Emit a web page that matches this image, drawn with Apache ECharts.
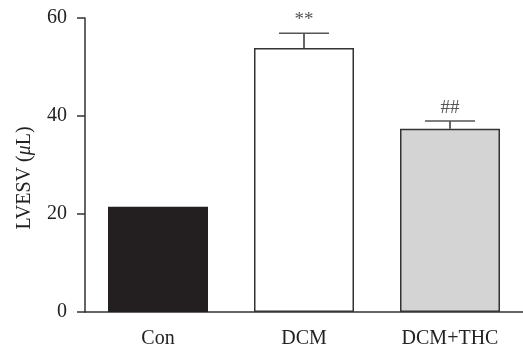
<!DOCTYPE html>
<html>
<head>
<meta charset="utf-8">
<style>
  html, body { margin: 0; padding: 0; background: #fff; }
  #chart { width: 523px; height: 355px; }
</style>
<script src="https://cdn.jsdelivr.net/npm/echarts@6/dist/echarts.min.js"></script>
</head>
<body>
<div id="chart"></div>
<script>
// Group labels and measured LVESV values (mean and upper SEM)
const categories = ['Con', 'DCM', 'DCM+THC'];
const means = [21.5, 53.9, 37.4];
const errors = [0, 3.0, 1.6];
const marks = ['', '**', '##'];
const yTicks = [0, 20, 40, 60];

const fills = ['#231f20', '#ffffff', '#d4d4d4'];
const serif = '"Liberation Serif", "Times New Roman", serif';

const chart = echarts.init(document.getElementById('chart'), null, { renderer: 'canvas' });

const errorData = means.map((m, i) => [i, m, m + errors[i]]);

chart.setOption({
  animation: false,
  backgroundColor: '#ffffff',
  grid: { left: 85, right: -3, top: 18, bottom: 43, containLabel: false },
  xAxis: {
    type: 'category',
    data: categories,
    axisLine: { lineStyle: { color: '#333', width: 1.5 } },
    axisTick: { alignWithLabel: true, length: 10, lineStyle: { color: '#333', width: 1.5 } },
    axisLabel: { color: '#222', fontFamily: serif, fontSize: 20, margin: 17 }
  },
  yAxis: {
    type: 'value',
    min: yTicks[0],
    max: yTicks[yTicks.length - 1],
    interval: yTicks[1] - yTicks[0],
    name: 'LVESV ({it|μ}L)',
    nameLocation: 'middle',
    nameGap: 50,
    nameRotate: 90,
    nameTextStyle: {
      color: '#222', fontFamily: serif, fontSize: 20,
      padding: [0, 26, 0, 0],
      rich: {
        it: { color: '#222', fontFamily: serif, fontSize: 20, fontStyle: 'italic' }
      }
    },
    splitLine: { show: false },
    axisLine: { show: true, lineStyle: { color: '#333', width: 1.5 } },
    axisTick: { show: true, length: 8, lineStyle: { color: '#333', width: 1.5 } },
    axisLabel: { color: '#222', fontFamily: serif, fontSize: 20, margin: 18 }
  },
  series: [
    {
      type: 'bar',
      barWidth: 100,
      data: means.map((v, i) => ({
        value: v,
        itemStyle: {
          color: fills[i],
          borderColor: i === 0 ? fills[0] : '#333',
          borderWidth: i === 0 ? 0 : 1.5
        }
      })),
      z: 1
    },
    {
      type: 'custom',
      data: errorData,
      z: 3,
      renderItem: function (params, api) {
        const idx = api.value(0);
        const mean = api.value(1);
        const top = api.value(2);
        const mark = marks[params.dataIndex];
        const children = [];
        if (top > mean) {
          const p0 = api.coord([idx, mean]);
          const p1 = api.coord([idx, top]);
          const half = 25;
          children.push({
            type: 'line',
            shape: { x1: p0[0], y1: p0[1], x2: p1[0], y2: p1[1] },
            style: { stroke: '#333', lineWidth: 1.5 }
          });
          children.push({
            type: 'line',
            shape: { x1: p1[0] - half, y1: p1[1], x2: p1[0] + half, y2: p1[1] },
            style: { stroke: '#555', lineWidth: 1.5 }
          });
          if (mark) {
            children.push({
              type: 'text',
              style: {
                x: p1[0], y: p1[1] - 13,
                text: mark,
                fill: '#555',
                font: '19px ' + serif,
                align: 'center',
                verticalAlign: 'middle'
              }
            });
          }
        }
        return { type: 'group', children: children };
      }
    }
  ]
});
</script>
</body>
</html>
